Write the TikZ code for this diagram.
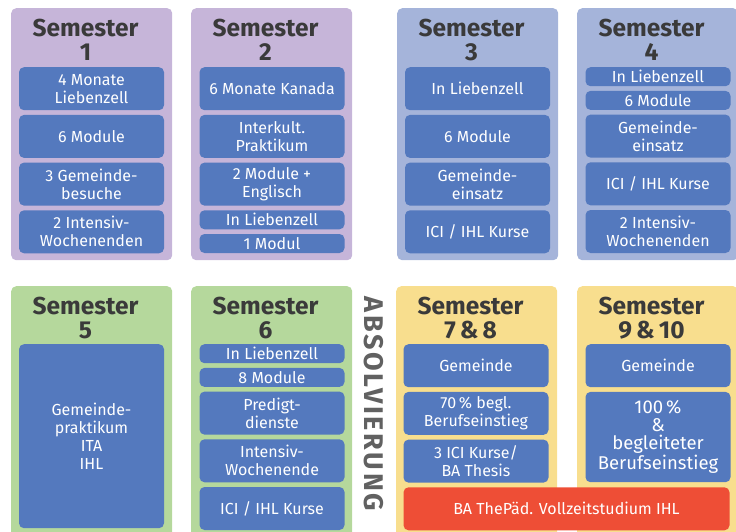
\documentclass[tikz,border=0pt]{standalone}
\usepackage{fontspec}
\setmainfont{Fira Sans}
\usetikzlibrary{positioning}
\definecolor{lila}{HTML}{C6B5D9}
\definecolor{graublau}{HTML}{A5B4DA}
\definecolor{gruen}{HTML}{B5D89C}
\definecolor{gelb}{HTML}{F8DE8E}
\definecolor{kasten}{HTML}{5479BE}
\definecolor{rot}{HTML}{EE4E36}
\definecolor{dunkel}{HTML}{3A3A3A}
\definecolor{grautext}{HTML}{616161}
\begin{document}
\begin{tikzpicture}[x=1pt, y=-1pt, node distance=4.3pt,
  panel/.style={fill=#1, rounded corners=5pt, minimum width=161pt, minimum height=252pt, anchor=north west, inner sep=0pt},
  head/.style={text=dunkel, font=\fontsize{24.5}{24}\selectfont\bfseries, align=center, anchor=north, inner sep=0pt},
  item/.style={fill=kasten, rounded corners=5pt, text=white, font=\fontsize{16}{18}\selectfont, align=center, minimum width=145pt, minimum height=43pt, inner sep=0pt},
  thin/.style={item, minimum height=19pt}]
\clip (0,0) rectangle (736,531);

% Hintergrundfelder
\node[panel=lila] (p1) at (11,8) {};
\node[panel=lila] (p2) at (191,8) {};
\node[panel=graublau] (p3) at (397,8) {};
\node[panel=graublau] (p4) at (577,8) {};
\node[panel=gruen, minimum height=260pt] (p5) at (11,286) {};
\node[panel=gruen, minimum height=260pt] (p6) at (191,286) {};
\node[panel=gelb, minimum height=260pt] (p7) at (396,286) {};
\node[panel=gelb, minimum height=260pt] (p9) at (577,286) {};

% Ueberschriften
\node[head] (t1) at (85.5,19) {Semester\\1};
\node[head] (t2) at (265.5,19) {Semester\\2};
\node[head] (t3) at (471.5,19) {Semester\\3};
\node[head] (t4) at (651.5,19) {Semester\\4};
\node[head] (t5) at (85.5,297) {Semester\\5};
\node[head] (t6) at (265.5,297) {Semester\\6};
\node[head] (t7) at (470.5,297) {Semester\\7\,\&\,8};
\node[head] (t9) at (651.5,297) {Semester\\9\,\&\,10};

% Semester 1
\node[item, anchor=north] (a1) at (91.5,67) {4 Monate\\Liebenzell};
\node[item, below=of a1] (a2) {6 Module};
\node[item, below=of a2] (a3) {3 Gemeinde-\\besuche};
\node[item, below=of a3] (a4) {2 Intensiv-\\Wochenenden};

% Semester 2
\node[item, anchor=north] (b1) at (272,67) {6 Monate Kanada};
\node[item, below=of b1] (b2) {Interkult.\\Praktikum};
\node[item, below=of b2] (b3) {2 Module +\\Englisch};
\node[thin, below=of b3] (b4) {In Liebenzell};
\node[thin, below=of b4] (b5) {1 Modul};

% Semester 3
\node[item, anchor=north] (c1) at (477.5,67) {In Liebenzell};
\node[item, below=of c1] (c2) {6 Module};
\node[item, below=of c2] (c3) {Gemeinde-\\einsatz};
\node[item, below=of c3] (c4) {ICI / IHL Kurse};

% Semester 4
\node[thin, anchor=north] (d1) at (658,67) {In Liebenzell};
\node[thin, below=of d1] (d2) {6 Module};
\node[item, below=of d2] (d3) {Gemeinde-\\einsatz};
\node[item, below=of d3] (d4) {ICI / IHL Kurse};
\node[item, below=of d4] (d5) {2 Intensiv-\\Wochenenden};

% Semester 5
\node[item, anchor=north, minimum height=184pt] (e1) at (91.5,344) {Gemeinde-\\praktikum\\ITA\\IHL};

% Semester 6
\node[thin, anchor=north] (f1) at (272,344) {In Liebenzell};
\node[thin, below=of f1] (f2) {8 Module};
\node[item, below=of f2] (f3) {Predigt-\\dienste};
\node[item, below=of f3] (f4) {Intensiv-\\Wochenende};
\node[item, below=of f4] (f5) {ICI / IHL Kurse};

% Semester 7 & 8
\node[item, anchor=north] (g1) at (476,344) {Gemeinde};
\node[item, below=of g1] (g2) {70\,\% begl.\\Berufseinstieg};
\node[item, below=of g2] (g3) {3 ICI Kurse/\\BA Thesis};
\node[item, fill=rot, minimum width=326pt, below=of g3.south west, anchor=north west] (ba) {BA ThePäd. Vollzeitstudium IHL};

% Semester 9 & 10
\node[item, anchor=north] (h1) at (658,344) {Gemeinde};
\node[item, below=of h1, minimum height=90.3pt, font=\fontsize{18.5}{18}\selectfont] (h2) {100\,\%\\\&\\begleiteter\\Berufseinstieg};

\node[rotate=-90, text=grautext, font=\fontsize{27}{27}\selectfont\bfseries\addfontfeatures{LetterSpace=10}] (abs) at (374,404) {ABSOLVIERUNG};
\end{tikzpicture}
\end{document}
